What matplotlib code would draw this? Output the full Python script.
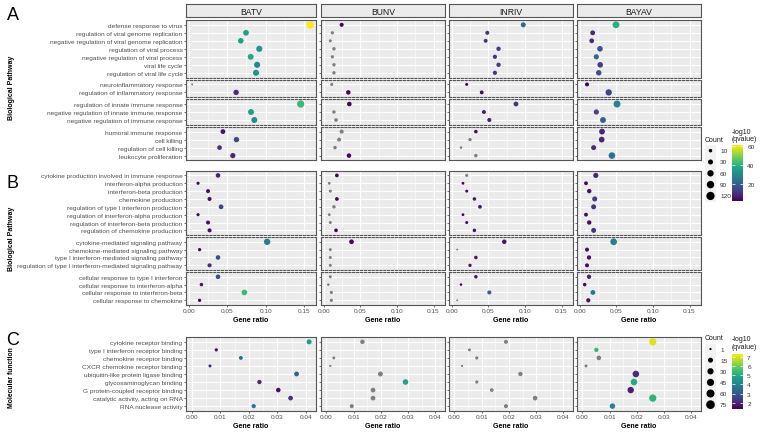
import numpy as np
import matplotlib.pyplot as plt
from matplotlib.colors import Normalize
from matplotlib.cm import ScalarMappable

plt.rcParams['font.family'] = ['Liberation Sans', 'DejaVu Sans']

nan = np.nan
viruses = ['BATV', 'BUNV', 'INRIV', 'BAYAV']

# ---- A: biological pathway ----
terms_a = ['defense response to virus', 'regulation of viral genome replication',
           'negative regulation of viral genome replication', 'regulation of viral process',
           'negative regulation of viral process', 'viral life cycle', 'regulation of viral life cycle',
           'neuroinflammatory response', 'regulation of inflammatory response',
           'regulation of innate immune response', 'negative regulation of innate immune response',
           'negative regulation of immune response',
           'humoral immune response', 'cell killing', 'regulation of cell killing', 'leukocyte proliferation']
groups_a = [7, 2, 3, 4]
# rows: BATV, BUNV, INRIV, BAYAV
ratio_a = [
    [0.158, 0.0745, 0.0677, 0.0918, 0.0806, 0.089, 0.0875, 0.0043, 0.0616, 0.1457, 0.081, 0.0853, 0.0444, 0.062, 0.040, 0.0573],
    [0.0245, 0.0118, 0.009, 0.014, 0.0118, 0.014, 0.014, 0.011, 0.0336, 0.035, 0.014, 0.0168, 0.0245, 0.021, 0.0154, 0.0345],
    [0.0978, 0.0486, 0.0464, 0.064, 0.059, 0.064, 0.059, 0.0205, 0.041, 0.0878, 0.044, 0.0514, 0.033, 0.025, 0.0127, 0.033],
    [0.0496, 0.0177, 0.0164, 0.0277, 0.0227, 0.028, 0.026, 0.010, 0.0396, 0.051, 0.0227, 0.0318, 0.0305, 0.030, 0.019, 0.044],
]
count_a = [
    [95, 45, 41, 55, 48, 53, 52, 3, 37, 87, 49, 51, 27, 37, 24, 34],
    [16, 8, 6, 9, 8, 9, 9, 7, 22, 23, 9, 11, 16, 14, 10, 22],
    [30, 15, 14, 20, 18, 20, 18, 6, 13, 27, 14, 16, 10, 8, 4, 10],
    [74, 27, 25, 42, 34, 42, 39, 15, 59, 77, 34, 48, 46, 45, 29, 66],
]
q_a = [
    [61, 36, 36, 33.5, 37.6, 29.4, 33, nan, 10, 42, 36, 32, 6, 15.4, 9.5, 8.5],
    [3.7, nan, nan, nan, nan, nan, nan, nan, 3.5, 3.5, nan, nan, nan, nan, nan, 3.5],
    [23, 11, 11, 13, 12, 13, 12, 3, 4, 11, 7, 7.5, 3.5, nan, nan, nan],
    [39.4, 9.5, 9.5, 17.7, 22.4, 13, 17, 3, 15, 29, 14, 20, 8.5, 9, 10, 25],
]

# ---- B: biological pathway (cytokines / interferons) ----
terms_b = ['cytokine production involved in immune response', 'interferon-alpha production',
           'interferon-beta production', 'chemokine production',
           'regulation of type I interferon production', 'regulation of interferon-alpha production',
           'regulation of interferon-beta production', 'regulation of chemokine production',
           'cytokine-mediated signaling pathway', 'chemokine-mediated signaling pathway',
           'type I interferon-mediated signaling pathway',
           'regulation of type I interferon-mediated signaling pathway',
           'cellular response to type I interferon', 'cellular response to interferon-alpha',
           'cellular response to interferon-beta', 'cellular response to chemokine']
groups_b = [8, 4, 4]
ratio_b = [
    [0.038, 0.012, 0.025, 0.027, 0.042, 0.012, 0.025, 0.027, 0.102, 0.014, 0.038, 0.027, 0.038, 0.0164, 0.0724, 0.014],
    [0.018, 0.0076, 0.009, 0.018, 0.014, 0.0076, 0.009, 0.0168, 0.038, 0.009, 0.009, 0.009, 0.009, 0.0063, 0.0104, 0.0104],
    [0.0205, 0.0154, 0.0205, 0.031, 0.0386, 0.0154, 0.0205, 0.031, 0.0718, 0.0076, 0.033, 0.025, 0.033, 0.0127, 0.0514, 0.0076],
    [0.022, 0.0086, 0.013, 0.0205, 0.019, 0.0086, 0.013, 0.019, 0.0464, 0.010, 0.0127, 0.010, 0.0127, 0.0068, 0.018, 0.0117],
]
count_b = [
    [23, 7, 15, 16, 25, 7, 15, 16, 61, 8, 23, 16, 23, 10, 43, 8],
    [12, 5, 6, 12, 9, 5, 6, 11, 25, 6, 6, 6, 6, 4, 7, 7],
    [6, 5, 6, 10, 12, 5, 6, 10, 22, 2, 10, 8, 10, 4, 16, 2],
    [33, 13, 20, 31, 29, 13, 20, 29, 70, 15, 19, 15, 19, 10, 27, 18],
]
q_b = [
    [8.3, 3.7, 5.4, 5, 14, 3.7, 5.4, 5, 27, 3.7, 17, 9.5, 17, 6, 42, 3],
    [3, nan, nan, 3.5, nan, nan, nan, 3, 4, nan, nan, nan, nan, nan, nan, nan],
    [nan, 3.5, 4, 5.5, 6.5, 3.5, 4, 5.5, 6, nan, 6, 5, 6.5, 3.5, 20, nan],
    [9, 3.5, 4.5, 13, 11, 3.5, 4.5, 11, 28, 4.5, 5.5, 4.5, 8, 3.5, 26, 5.5],
]

# ---- C: molecular function ----
terms_c = ['cytokine receptor binding', 'type I interferon receptor binding', 'chemokine receptor binding',
           'CXCR chemokine receptor binding', 'ubiquitin-like protein ligase binding',
           'glycosaminoglycan binding', 'G protein-coupled receptor binding',
           'catalytic activity, acting on RNA', 'RNA nuclease activity']
groups_c = [9]
ratio_c = [
    [0.0411, 0.0086, 0.0172, 0.0064, 0.0367, 0.0237, 0.0303, 0.0346, 0.0217],
    [0.0132, nan, 0.0027, 0.0014, 0.0198, 0.029, 0.0171, 0.0171, 0.0093],
    [0.0189, 0.0055, 0.0082, 0.0028, 0.0242, 0.0082, 0.0137, 0.0296, 0.0189],
    [0.0258, 0.0051, 0.006, 0.0013, 0.0196, 0.0189, 0.0177, 0.0258, 0.011],
]
count_c = [
    [15, 3, 6, 2, 13, 9, 11, 12, 8],
    [10, nan, 2, 1, 14, 21, 12, 12, 7],
    [7, 2, 3, 1, 9, 3, 5, 11, 7],
    [46, 9, 11, 2, 35, 34, 32, 46, 20],
]
q_c = [
    [4.65, 1.75, 3.5, 1.9, 3.2, 2.05, 1.65, 2.2, 3.65],
    [nan, nan, nan, nan, nan, 4.8, nan, nan, nan],
    [nan, nan, nan, nan, nan, nan, nan, nan, nan],
    [7.0, 5.3, nan, nan, 2.15, 4.95, 1.9, 5.2, 4.05],
]

count_breaks_ab = [10, 30, 60, 90, 120]
count_breaks_c = [1, 15, 30, 45, 60, 75]
q_ticks_ab = [20, 40, 60]
q_ticks_c = [2, 3, 4, 5, 6, 7]

W, H = 762, 435
fig = plt.figure(figsize=(W / 100, H / 100), dpi=100)
PT = 72 / 100
cmap = plt.get_cmap('viridis')
NA_COL = '#7F7F7F'
BORDER = '#555555'
TXT = '#4D4D4D'
cols = [(186, 316), (321, 445), (449, 573), (577, 701)]


def px_axes(x0, y0, x1, y1):
    return fig.add_axes([x0 / W, 1 - y1 / H, (x1 - x0) / W, (y1 - y0) / H])


def px_text(x, y, s, **kw):
    fig.text(x / W, 1 - y / H, s, **kw)


def dot_size(c, lim, diam):
    f = np.sqrt(np.clip((np.asarray(c, float) - lim[0]) / (lim[1] - lim[0]), 0, 1))
    return ((diam[0] + (diam[1] - diam[0]) * f) * PT) ** 2


def section(terms, groups, ratio, count, q, top, unit, xlim, major, minor, norm, clim, diam, xaxis, strip):
    y = top
    start = 0
    last = len(groups) - 1
    for gi, n in enumerate(groups):
        h = (n + 0.2) * unit
        for ci, (x0, x1) in enumerate(cols):
            ax = px_axes(x0, y, x1, y + h)
            ax.set_facecolor('#EBEBEB')
            ax.set_xlim(xlim)
            ax.set_ylim(n - 0.4, -0.6)
            ax.set_yticks(range(n))
            ax.set_yticklabels(terms[start:start + n] if ci == 0 else [])
            ax.set_xticks(major)
            ax.set_xticks(minor, minor=True)
            ax.grid(True, which='major', color='white', lw=0.8)
            ax.grid(True, which='minor', axis='x', color='white', lw=0.4)
            ax.set_axisbelow(True)
            ax.tick_params(axis='y', length=1.5, width=0.5, color='#333333', pad=1,
                           labelsize=4.65, labelcolor=TXT)
            ax.tick_params(axis='x', which='minor', length=0)
            if xaxis and gi == last:
                ax.set_xticklabels([f'{t:.2f}' for t in major])
                ax.tick_params(axis='x', which='major', length=1.5, width=0.5, color='#333333',
                               pad=1, labelsize=4.65, labelcolor=TXT)
                ax.set_xlabel('Gene ratio', fontsize=5.1, fontweight='bold', labelpad=1.5)
            else:
                ax.tick_params(axis='x', which='major', length=0, labelbottom=False)
            for s in ax.spines.values():
                s.set_color(BORDER)
                s.set_linewidth(0.8)
            if gi > 0:
                ax.spines['top'].set_linestyle((0, (2, 1.5)))
            if gi < last:
                ax.spines['bottom'].set_linestyle((0, (2, 1.5)))

            r = np.array(ratio[ci][start:start + n], float)
            c = np.array(count[ci][start:start + n], float)
            qq = np.array(q[ci][start:start + n], float)
            rows = np.arange(n)
            ok = ~np.isnan(r)
            pcol = [NA_COL if np.isnan(v) else cmap(norm(v)) for v in qq]
            pcol = [pc for pc, k in zip(pcol, ok) if k]
            ax.scatter(r[ok], rows[ok], s=dot_size(c[ok], clim, diam), c=pcol,
                       linewidths=0, zorder=3, clip_on=False)

            if strip and gi == 0:
                sax = px_axes(x0, 5, x1, 18)
                sax.set_facecolor('#EBEBEB')
                sax.set_xticks([])
                sax.set_yticks([])
                for s in sax.spines.values():
                    s.set_color(BORDER)
                    s.set_linewidth(0.8)
                sax.text(0.5, 0.45, viruses[ci], ha='center', va='center', fontsize=6.2,
                         color='#1A1A1A', transform=sax.transAxes)
        y += h + 2
        start += n


def size_legend(breaks, lim, diam, x0, y0, y1, title_y):
    px_text(705, title_y, 'Count', fontsize=5, va='center', ha='left', color='#1A1A1A')
    lax = px_axes(x0, y0, x0 + 11, y1)
    lax.set_facecolor('#F2F2F2')
    lax.set_xlim(-1, 1)
    lax.set_ylim(len(breaks) - 0.5, -0.5)
    lax.scatter(np.zeros(len(breaks)), np.arange(len(breaks)), s=dot_size(breaks, lim, diam),
                c='black', linewidths=0)
    for i, b in enumerate(breaks):
        lax.text(1.75, i, str(b), ha='left', va='center', fontsize=4.65, color='#333333')
    lax.set_xticks([])
    lax.set_yticks([])
    for s in lax.spines.values():
        s.set_visible(False)


def color_legend(norm, ticks, x0, y0, y1, title_y):
    px_text(x0, title_y, '-log10\n(qvalue)', fontsize=5, va='center', ha='left',
            color='#1A1A1A', linespacing=1.1)
    cax = px_axes(x0, y0, x0 + 11, y1)
    cb = fig.colorbar(ScalarMappable(norm=norm, cmap=cmap), cax=cax, ticks=ticks)
    cb.outline.set_visible(False)
    cax.yaxis.set_ticks_position('both')
    cax.tick_params(direction='in', length=2, width=0.5, color='white', pad=3,
                    labelsize=4.65, labelcolor='#333333', labelright=True, labelleft=False)


norm_ab = Normalize(2.5, 61)
norm_c = Normalize(1.4, 7.3)
lim_ab, diam_ab = (3, 125), (2.0, 8.4)
lim_c, diam_c = (1, 78), (2.2, 8.8)

section(terms_a, groups_a, ratio_a, count_a, q_a, 21, 8.0, (-0.0037, 0.1657),
        [0, 0.05, 0.10, 0.15], [0.025, 0.075, 0.125], norm_ab, lim_ab, diam_ab, False, True)
section(terms_b, groups_b, ratio_b, count_b, q_b, 171.7, 7.85, (-0.0037, 0.1657),
        [0, 0.05, 0.10, 0.15], [0.025, 0.075, 0.125], norm_ab, lim_ab, diam_ab, True, False)
section(terms_c, groups_c, ratio_c, count_c, q_c, 338, 8.04, (-0.002, 0.0435),
        [0, 0.01, 0.02, 0.03, 0.04], [0.005, 0.015, 0.025, 0.035], norm_c, lim_c, diam_c, True, False)

size_legend(count_breaks_ab, lim_ab, diam_ab, 705, 146, 202.6, 140)
color_legend(norm_ab, q_ticks_ab, 732, 146, 202, 136)
size_legend(count_breaks_c, lim_c, diam_c, 705, 344.5, 411.2, 338.3)
color_legend(norm_c, q_ticks_c, 732, 355, 409.5, 343.7)

for lab, yb in [('A', 19.5), ('B', 188.5), ('C', 345)]:
    px_text(6.5, yb, lab, fontsize=13, va='baseline', ha='left', color='black')
for lab, yc, fs in [('Biological Pathway', 88, 5), ('Biological Pathway', 239, 5),
                    ('Molecular function', 378, 4.9)]:
    px_text(11.7, yc, lab, fontsize=fs, fontweight='bold', rotation=90, ha='center', va='center')

fig.savefig('out.png', dpi=100)
